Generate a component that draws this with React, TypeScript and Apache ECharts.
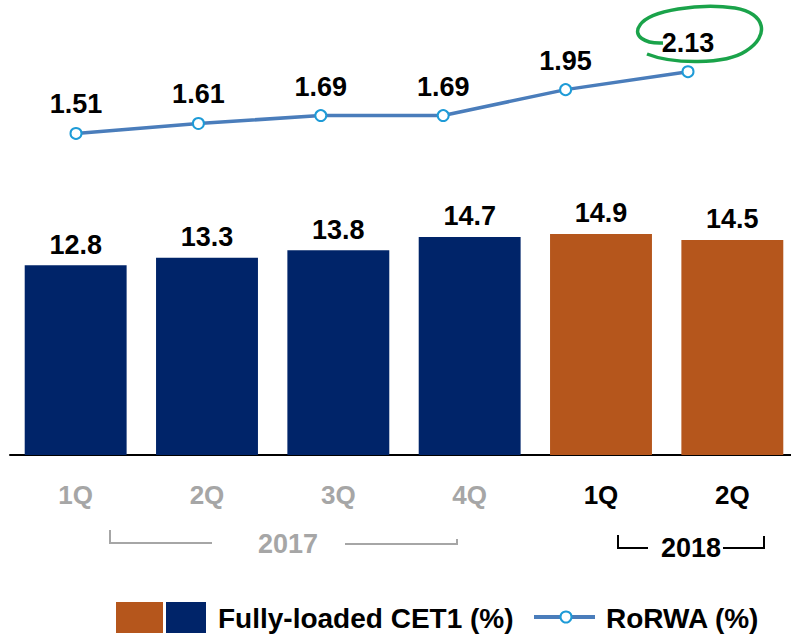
import React, { useEffect, useRef } from "react";
import * as echarts from "echarts";

const categories = ["1Q", "2Q", "3Q", "4Q", "1Q", "2Q"];
const cet1Values = [12.8, 13.3, 13.8, 14.7, 14.9, 14.5];
const rorwaValues = [1.51, 1.61, 1.69, 1.69, 1.95, 2.13];
const yearLabels = ["2017", "2018"];
const legendLabels = ["Fully-loaded CET1 (%)", "RoRWA (%)"];

const NAVY = "#002469";
const ORANGE = "#b5561c";
const LINE = "#4a7dbb";
const MARKER = "#1e9bd7";
const GRAY = "#a6a6a6";
const FONT = "'Liberation Sans', Arial, sans-serif";

const loopPath =
  "M 663 43 C 645 44 632 36 640 25 C 650 10 700 3 735 8 C 766 13 770 36 746 51 C 725 65 672 64 647 54";

let registered = false;

export default function App() {
  const ref = useRef<HTMLDivElement>(null);
  useEffect(() => {
    if (!ref.current) return;
    if (!registered) {
      echarts.graphic.registerShape("logo", echarts.graphic.extendPath(loopPath, {}) as any);
      registered = true;
    }
    const chart = echarts.init(ref.current, undefined, { renderer: "svg" });
    const isActual = (i: number) => i >= 4;
    chart.setOption({
      animation: false,
      grid: [
        { left: 10, top: 10, width: 788, height: 445 },
        { left: 76, top: 10, width: 612, height: 445 },
      ],
      xAxis: [
        {
          type: "category",
          gridIndex: 0,
          data: categories,
          axisLine: { show: true, lineStyle: { color: "#000", width: 2 } },
          axisTick: { show: false },
          axisLabel: {
            margin: 27,
            formatter: (v: string, i: number) => (isActual(i) ? `{b|${v}}` : `{g|${v}}`),
            rich: {
              g: { color: GRAY, fontSize: 26, fontWeight: "bold", fontFamily: FONT },
              b: { color: "#000", fontSize: 26, fontWeight: "bold", fontFamily: FONT },
            },
          },
        },
        {
          type: "category",
          gridIndex: 1,
          data: categories,
          boundaryGap: false,
          show: false,
        },
      ],
      yAxis: [
        { type: "value", gridIndex: 0, min: 0, max: 30, show: false, splitLine: { show: false } },
        { type: "value", gridIndex: 1, min: -1.72, max: 2.75, show: false, splitLine: { show: false } },
      ],
      series: [
        {
          type: "bar",
          xAxisIndex: 0,
          yAxisIndex: 0,
          barCategoryGap: "22.4%",
          data: cet1Values.map((v, i) => ({
            value: v,
            itemStyle: { color: isActual(i) ? ORANGE : NAVY },
          })),
          label: {
            show: true,
            position: "top",
            distance: 7,
            color: "#000",
            fontSize: 27,
            fontWeight: "bold",
            fontFamily: FONT,
            formatter: (p: any) => p.value.toFixed(1),
          },
        },
        {
          type: "line",
          xAxisIndex: 1,
          yAxisIndex: 1,
          data: rorwaValues,
          symbol: "circle",
          symbolSize: 11,
          z: 5,
          lineStyle: { color: LINE, width: 3.5 },
          itemStyle: { color: "#fff", borderColor: MARKER, borderWidth: 2 },
          label: {
            show: true,
            position: "top",
            distance: 9,
            color: "#000",
            fontSize: 27,
            fontWeight: "bold",
            fontFamily: FONT,
            formatter: (p: any) => p.value.toFixed(2),
          },
        },
      ],
      graphic: [
        // 2017 bracket
        { type: "polyline", shape: { points: [[110, 530], [110, 543], [212, 543]] }, style: { stroke: GRAY, lineWidth: 2, fill: "none" } },
        { type: "polyline", shape: { points: [[345, 544], [457, 544], [457, 539]] }, style: { stroke: GRAY, lineWidth: 2, fill: "none" } },
        { type: "text", x: 288, y: 544, style: { text: yearLabels[0], fill: GRAY, fontSize: 27, fontWeight: "bold", fontFamily: FONT, align: "center", verticalAlign: "middle" } },
        // 2018 bracket
        { type: "polyline", shape: { points: [[618, 535], [618, 548], [648, 548]] }, style: { stroke: "#000", lineWidth: 2, fill: "none" } },
        { type: "polyline", shape: { points: [[723, 548], [764, 548], [764, 536]] }, style: { stroke: "#000", lineWidth: 2, fill: "none" } },
        { type: "text", x: 691, y: 548, style: { text: yearLabels[1], fill: "#000", fontSize: 27, fontWeight: "bold", fontFamily: FONT, align: "center", verticalAlign: "middle" } },
        // legend
        { type: "rect", shape: { x: 116, y: 602, width: 47, height: 31 }, style: { fill: ORANGE } },
        { type: "rect", shape: { x: 166, y: 602, width: 40, height: 31 }, style: { fill: NAVY } },
        { type: "text", x: 218, y: 618, style: { text: legendLabels[0], fill: "#000", fontSize: 28, fontWeight: "bold", fontFamily: FONT, align: "left", verticalAlign: "middle" } },
        { type: "line", shape: { x1: 534, y1: 617, x2: 595, y2: 617 }, style: { stroke: LINE, lineWidth: 4 } },
        { type: "circle", shape: { cx: 566, cy: 617, r: 5.5 }, style: { fill: "#fff", stroke: MARKER, lineWidth: 2 } },
        { type: "text", x: 606, y: 618, style: { text: legendLabels[1], fill: "#000", fontSize: 28, fontWeight: "bold", fontFamily: FONT, align: "left", verticalAlign: "middle" } },
        // annotation loop
        { type: "logo", x: 0, y: 0, scaleX: 1, scaleY: 1, z: 10, style: { fill: "none", stroke: "#1aa34a", lineWidth: 3.5 } },
      ],
    });
    return () => chart.dispose();
  }, []);
  return (
    <div style={{ position: "fixed", left: 0, top: 0, width: 791, height: 636, overflow: "hidden", background: "#fff" }}>
      <div ref={ref} style={{ width: 800, height: 636 }} />
    </div>
  );
}
